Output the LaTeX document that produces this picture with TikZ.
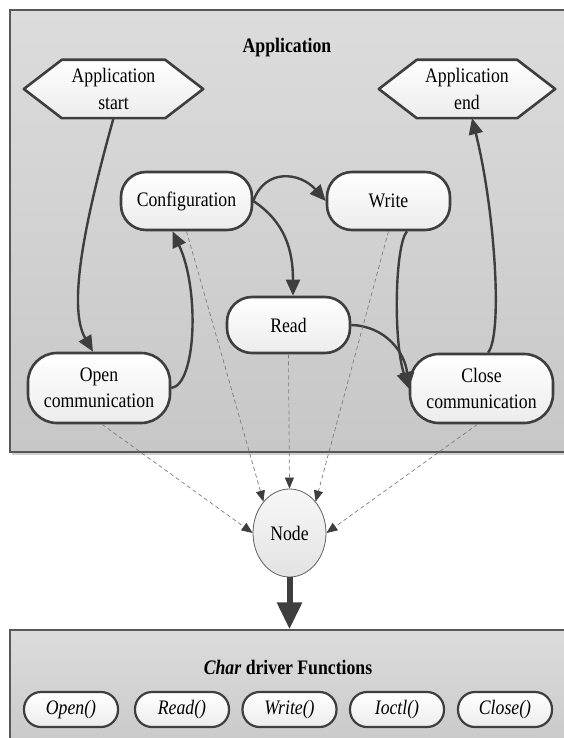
\documentclass[tikz,border=0pt]{standalone}
\usepackage{fontspec}
\setmainfont{Liberation Serif}[FakeStretch=0.86]
\usetikzlibrary{arrows.meta,shapes.geometric,shadows}
\definecolor{ink}{RGB}{62,62,62}
\definecolor{panelrim}{RGB}{88,88,88}
\definecolor{paneltop}{RGB}{220,220,220}
\definecolor{panelbot}{RGB}{199,199,199}
\definecolor{dashgray}{RGB}{125,125,125}
\pgfdeclarelayer{bg}
\pgfsetlayers{bg,main}
\tikzset{
  txt/.style={font=\fontsize{20.6}{26.5}\selectfont},
  panel/.style={draw=panelrim, line width=1.4pt, top color=paneltop, bottom color=panelbot,
    inner sep=0pt},
  stepbox/.style={txt, draw=ink, line width=2.6pt, rounded corners=25pt, top color=white,
    bottom color=gray!15, align=center, inner sep=0pt},
  fnbox/.style={txt, font=\fontsize{20.6}{26.5}\selectfont\itshape, draw=ink, line width=2.2pt,
    rounded corners=17pt, top color=white, bottom color=gray!15, inner sep=0pt,
    minimum width=94pt, minimum height=35pt},
  hexlabel/.style={txt, align=center, inner sep=0pt},
  hexrim/.style={draw=ink, line width=2.6pt, top color=white, bottom color=gray!15, line join=round},
  flow/.style={draw=ink, line width=2.4pt, -{Triangle[length=16pt,width=14pt]}},
  dashflow/.style={draw=dashgray, line width=0.7pt, dash pattern=on 4pt off 3pt,
    -{Triangle[length=11pt,width=9pt,color=ink]}},
  fat/.style={draw=ink, line width=6pt, -{Triangle[length=27pt,width=24pt]}},
}
\begin{document}
\begin{tikzpicture}[x=1pt,y=-1pt]
\useasboundingbox (0,0) rectangle (563,738);
\clip (0,0) rectangle (563,738);

% page and panels
\begin{pgfonlayer}{bg}
\fill[white] (0,0) rectangle (563,738);
\node[panel, drop shadow={shadow xshift=1.5pt, shadow yshift=-3pt, opacity=0.18, fill=black},
  minimum width=556pt, minimum height=442pt] (app) at (288,231) {};
\node[panel, minimum width=556pt, minimum height=130pt] (drv) at (288,695) {};
\end{pgfonlayer}

\node[txt, font=\fontsize{20.6}{26.5}\selectfont\bfseries] (apptitle) at (287,48) {Application};
\node[txt, font=\fontsize{20.6}{26.5}\selectfont\bfseries] (drvtitle) at (288,667)
  {\textit{Char} driver Functions};

% start / end markers
\node[hexlabel, minimum width=179pt, minimum height=58pt] (astart) at (113.5,89) {Application\\start};
\node[hexlabel, minimum width=176pt, minimum height=58pt] (aend) at (467,89) {Application\\end};
\begin{pgfonlayer}{bg}
\foreach \h in {astart,aend}{
  \path[hexrim] (\h.west) -- ([xshift=38pt]\h.north west) -- ([xshift=-38pt]\h.north east)
    -- (\h.east) -- ([xshift=-38pt]\h.south east) -- ([xshift=38pt]\h.south west) -- cycle;
}
\end{pgfonlayer}

% states
\node[stepbox, minimum width=131pt, minimum height=58pt] (config) at (186.5,201) {Configuration};
\node[stepbox, minimum width=123pt, minimum height=58pt] (write) at (388.5,201) {Write};
\node[stepbox, minimum width=123pt, minimum height=56pt] (read) at (288.5,325) {Read};
\node[stepbox, rounded corners=29pt, minimum width=142pt, minimum height=70pt] (ocomm) at (99,388)
  {Open\\communication};
\node[stepbox, rounded corners=29pt, minimum width=143pt, minimum height=69pt] (close) at (481.5,388.5)
  {Close\\communication};

% dispatcher
\node[txt, ellipse, draw=gray!75!black, line width=0.8pt, top color=gray!6, bottom color=gray!22,
  minimum width=73pt, minimum height=88pt, inner sep=0pt] (nd) at (289.5,533) {Node};

% driver functions
\node[fnbox] (fopen) at (71,709.5) {Open()};
\node[fnbox] (fread) at (182,709.5) {Read()};
\node[fnbox] (fwrite) at (289.5,709.5) {Write()};
\node[fnbox] (fioctl) at (397,709.5) {Ioctl()};
\node[fnbox] (fclose) at (505,709.5) {Close()};

% control flow
\draw[flow] (astart.south) .. controls (88,210) and (66,305) .. ([xshift=-6pt]ocomm.north);
\draw[flow] (ocomm.east) .. controls (196,385) and (200,290) .. ([xshift=-14pt]config.south);
\draw[flow] (config.east) .. controls (265,168) and (300,172) .. (write.west);
\draw[flow] (config.east) .. controls (285,222) and (293,250) .. ([xshift=4.5pt]read.north);
\draw[flow] ([xshift=18.5pt]write.south) .. controls (395,245) and (393,340) .. (close.west);
\draw[flow] (read.east) .. controls (385,326) and (405,352) .. (close.west);
\draw[flow] ([xshift=6.5pt]close.north) .. controls (503,335) and (495,210) .. ([xshift=5pt]aend.south);

% calls routed through the node
\draw[dashflow] ([xshift=3pt]ocomm.south) -- (nd.west);
\draw[dashflow] (config.south) -- (nd.north west);
\draw[dashflow] (read.south) -- (nd.north);
\draw[dashflow] (write.south) -- (nd.north east);
\draw[dashflow] ([xshift=-4pt]close.south) -- (nd.east);

\draw[fat] (nd.south) -- (nd.south |- drv.north);
\end{tikzpicture}
\end{document}
